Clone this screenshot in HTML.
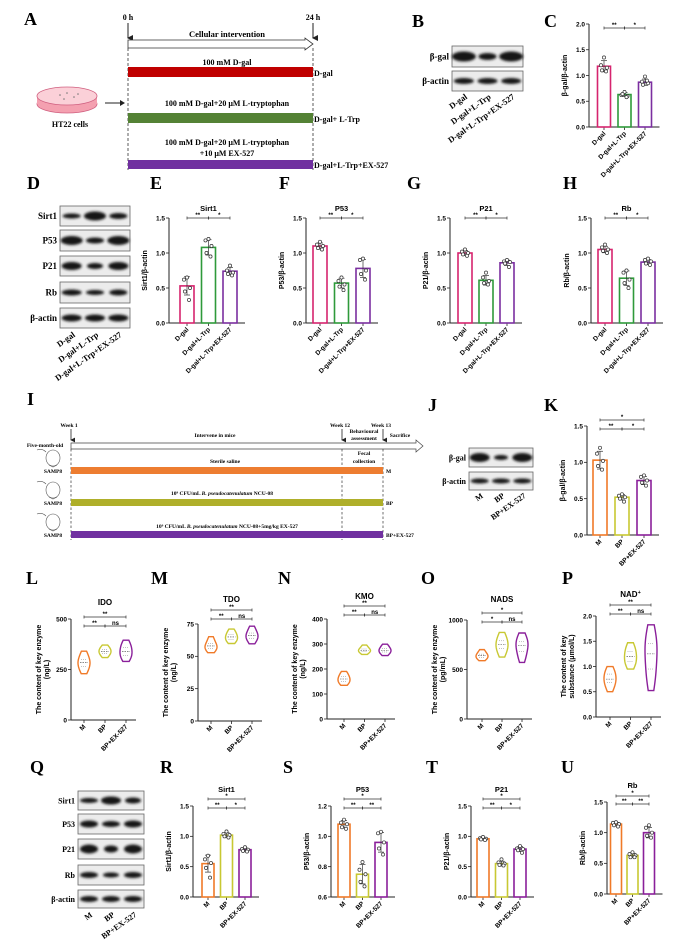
<!DOCTYPE html>
<html><head><meta charset="utf-8"><title>Figure</title>
<style>
html,body{margin:0;padding:0;background:#fff;}
svg{display:block;font-family:"Liberation Sans",Arial,sans-serif;}
.serif{font-family:"Liberation Serif","Times New Roman",serif;font-weight:bold;}
.letter{font-family:"Liberation Serif",serif;font-weight:bold;font-size:18px;}
.tick{font-size:6.5px;font-weight:bold;}
</style></head>
<body>
<svg id="fig" width="690" height="942" viewBox="0 0 690 942" xmlns="http://www.w3.org/2000/svg">
<defs>
<filter id="blur" x="-20%" y="-50%" width="140%" height="200%"><feGaussianBlur stdDeviation="1.3"/></filter>
<marker id="arr" markerWidth="6" markerHeight="6" refX="3" refY="5" orient="auto"><path d="M0,0 L3,6 L6,0" fill="#222"/></marker>
</defs>

<!-- Panel A schematic -->
<g>
<text class="letter" x="24" y="25">A</text>
<text class="serif" x="128" y="20" font-size="8" text-anchor="middle">0 h</text>
<text class="serif" x="313" y="20" font-size="8" text-anchor="middle">24 h</text>
<line x1="128" y1="23" x2="128" y2="38" stroke="#222" stroke-width="1" marker-end="url(#arr)"/>
<line x1="313" y1="23" x2="313" y2="38" stroke="#222" stroke-width="1" marker-end="url(#arr)"/>
<text class="serif" x="227" y="37" font-size="8.5" text-anchor="middle">Cellular intervention</text>
<path d="M128,40 H305 V38 L313,44 L305,50 V48 H128 Z" fill="#fff" stroke="#333" stroke-width="0.8"/>
<line x1="128" y1="48" x2="128" y2="170" stroke="#333" stroke-width="0.8" stroke-dasharray="3,2"/>
<line x1="313" y1="48" x2="313" y2="170" stroke="#333" stroke-width="0.8" stroke-dasharray="3,2"/>
<text class="serif" x="227" y="65" font-size="8" text-anchor="middle">100 mM D-gal</text>
<rect x="128" y="67" width="185" height="10" fill="#c00000"/>
<text class="serif" x="314" y="76" font-size="8">D-gal</text>
<text class="serif" x="227" y="106" font-size="8" text-anchor="middle">100 mM D-gal+20 μM L-tryptophan</text>
<rect x="128" y="113" width="185" height="10" fill="#548235"/>
<text class="serif" x="314" y="122" font-size="8">D-gal+ L-Trp</text>
<text class="serif" x="227" y="145" font-size="8" text-anchor="middle">100 mM D-gal+20 μM L-tryptophan</text>
<text class="serif" x="227" y="156" font-size="8" text-anchor="middle">+10 μM EX-527</text>
<rect x="128" y="160" width="185" height="9" fill="#7030a0"/>
<text class="serif" x="314" y="168" font-size="8">D-gal+L-Trp+EX-527</text>
<g>
<ellipse cx="67" cy="104" rx="30" ry="9" fill="#f4a0b0" stroke="#d06080" stroke-width="0.8"/>
<rect x="37" y="96" width="60" height="8" fill="#f4a0b0"/>
<ellipse cx="67" cy="96" rx="30" ry="9" fill="#fbd0d8" stroke="#d06080" stroke-width="0.8"/>
<circle cx="60" cy="95" r="0.8" fill="#777"/><circle cx="67" cy="93" r="0.8" fill="#777"/><circle cx="74" cy="97" r="0.8" fill="#777"/><circle cx="64" cy="99" r="0.8" fill="#777"/><circle cx="78" cy="94" r="0.8" fill="#777"/>
</g>
<text class="serif" x="70" y="127" font-size="8" text-anchor="middle">HT22 cells</text>
<line x1="105" y1="103" x2="120" y2="103" stroke="#222" stroke-width="1"/><path d="M120,100 L125,103 L120,106Z" fill="#222"/>
</g>

<!-- Panel I schematic -->
<g>
<text class="letter" x="27" y="405">I</text>
<text class="serif" x="69" y="427" font-size="5.5" text-anchor="middle">Week 1</text>
<text class="serif" x="340" y="427" font-size="5.5" text-anchor="middle">Week 12</text>
<text class="serif" x="381" y="427" font-size="5.5" text-anchor="middle">Week 13</text>
<line x1="71" y1="429" x2="71" y2="440" stroke="#222" stroke-width="0.8" marker-end="url(#arr)"/>
<line x1="342" y1="429" x2="342" y2="440" stroke="#222" stroke-width="0.8" marker-end="url(#arr)"/>
<line x1="383" y1="429" x2="383" y2="440" stroke="#222" stroke-width="0.8" marker-end="url(#arr)"/>
<text class="serif" x="215" y="437" font-size="5.5" text-anchor="middle">Intervene in mice</text>
<text class="serif" x="364" y="433" font-size="5.5" text-anchor="middle">Behavioural</text>
<text class="serif" x="364" y="440" font-size="5.5" text-anchor="middle">assessment</text>
<text class="serif" x="400" y="437" font-size="5.5" text-anchor="middle">Sacrifice</text>
<text class="serif" x="45" y="447" font-size="5.5" text-anchor="middle">Five-month-old</text>
<path d="M71,443 H416 V440 L423,446 L416,452 V449 H71 Z" fill="#fff" stroke="#444" stroke-width="0.7"/>
<line x1="71" y1="449" x2="71" y2="540" stroke="#333" stroke-width="0.7" stroke-dasharray="2.5,2"/>
<line x1="342" y1="449" x2="342" y2="540" stroke="#333" stroke-width="0.7" stroke-dasharray="2.5,2"/>
<line x1="383" y1="449" x2="383" y2="540" stroke="#333" stroke-width="0.7" stroke-dasharray="2.5,2"/>
<text class="serif" x="364" y="455" font-size="5.5" text-anchor="middle">Fecal</text>
<text class="serif" x="364" y="463" font-size="5.5" text-anchor="middle">collection</text>
<text class="serif" x="225" y="463" font-size="5.5" text-anchor="middle">Sterile saline</text>
<rect x="71" y="467" width="312" height="7" fill="#ed7d31"/>
<text class="serif" x="386" y="473" font-size="5.5">M</text>
<text class="serif" x="222" y="495" font-size="5.5" text-anchor="middle">10⁹ CFU/mL <tspan font-style="italic">B. pseudocatenulatum</tspan> NCU-08</text>
<rect x="71" y="499" width="312" height="7" fill="#afaf2a"/>
<text class="serif" x="386" y="505" font-size="5.5">BP</text>
<text class="serif" x="227" y="528" font-size="5.5" text-anchor="middle">10⁹ CFU/mL <tspan font-style="italic">B. pseudocatenulatum</tspan> NCU-08+5mg/kg EX-527</text>
<rect x="71" y="531" width="312" height="7" fill="#7030a0"/>
<text class="serif" x="386" y="537" font-size="5.5">BP+EX-527</text>
<g id="mice"></g>
</g>

<g id="charts"></g>
</svg>

<script>
// ---------- DATA ----------
const cellCats = ["D-gal", "D-gal+L-Trp", "D-gal+L-Trp+EX-527"];
const mouseCats = ["M", "BP", "BP+EX-527"];

const cValues = [1.18, 0.63, 0.87];
const cPoints = [[1.35,1.2,1.15,1.1,1.08],[0.68,0.62,0.6,0.64,0.58],[0.98,0.88,0.85,0.82,0.9]];
const cTicks = [0, 0.5, 1.0, 1.5, 2.0];

const eValues = [0.53, 1.08, 0.74];
const ePoints = [[0.65,0.62,0.5,0.45,0.33],[1.2,1.18,1.1,1.0,0.95],[0.82,0.75,0.72,0.7,0.68]];
const fValues = [1.1, 0.57, 0.78];
const fPoints = [[1.16,1.12,1.1,1.07,1.05],[0.65,0.6,0.55,0.52,0.47],[0.92,0.9,0.75,0.7,0.62]];
const gValues = [1.0, 0.61, 0.86];
const gPoints = [[1.05,1.02,1.0,0.98,0.96],[0.72,0.65,0.6,0.57,0.55],[0.9,0.88,0.87,0.85,0.8]];
const hValues = [1.05, 0.64, 0.87];
const hPoints = [[1.12,1.08,1.05,1.03,1.0],[0.75,0.72,0.62,0.57,0.5],[0.92,0.9,0.88,0.85,0.83]];
const ehTicks = [0, 0.5, 1.0, 1.5];

const kValues = [1.03, 0.52, 0.75];
const kPoints = [[1.2,1.12,1.02,0.95,0.9],[0.56,0.54,0.52,0.5,0.46],[0.82,0.8,0.75,0.72,0.68]];
const kTicks = [0, 0.5, 1.0, 1.5];

const lSamples = [[240,265,285,300,330],[315,330,340,350,365],[300,320,340,360,385]];
const lTicks = [0, 250, 500];
const mSamples = [[54,56,58,60,64],[61,63,65,67,70],[61,64,66,68,72]];
const mTicks = [0, 25, 50, 75];
const nSamples = [[140,150,160,170,185],[262,270,275,280,292],[258,268,275,282,295]];
const nTicks = [0, 100, 200, 300, 400];
const oSamples = [[600,620,640,655,690],[650,710,750,790,850],[600,680,740,780,840]];
const oTicks = [0, 500, 1000];
const pSamples = [[0.55,0.68,0.75,0.85,0.95],[1.0,1.1,1.2,1.3,1.42],[0.65,0.95,1.25,1.45,1.7]];
const pTicks = [0, 0.5, 1.0, 1.5, 2.0];

const rValues = [0.55, 1.02, 0.78];
const rPoints = [[0.68,0.62,0.56,0.48,0.32],[1.08,1.04,1.02,1.0,0.98],[0.82,0.79,0.78,0.76,0.75]];
const sValues = [1.08, 0.75, 0.96];
const sPoints = [[1.11,1.09,1.08,1.06,1.05],[0.83,0.78,0.75,0.7,0.67],[1.03,1.02,0.96,0.92,0.88]];
const sTicks = [0.6, 0.8, 1.0, 1.2];
const tValues = [0.96, 0.55, 0.79];
const tPoints = [[0.99,0.97,0.96,0.95,0.94],[0.62,0.57,0.55,0.53,0.52],[0.84,0.8,0.79,0.77,0.73]];
const uValues = [1.14, 0.63, 1.0];
const uPoints = [[1.17,1.16,1.14,1.12,1.1],[0.68,0.65,0.63,0.6,0.6],[1.12,1.08,1.0,0.95,0.92]];
const ruTicks = [0, 0.5, 1.0, 1.5];

// ---------- HELPERS ----------
const NS = "http://www.w3.org/2000/svg";
const root = document.getElementById('charts');
function mk(tag, attrs, parent, txt) {
  const e = document.createElementNS(NS, tag);
  for (const k in attrs) e.setAttribute(k, attrs[k]);
  if (txt !== undefined) e.textContent = txt;
  (parent || root).appendChild(e);
  return e;
}
const cellColors = ["#d6246e", "#2e9a3a", "#7b2fa0"];
const mouseColors = ["#f07a28", "#c8c832", "#8a1f9a"];

function fmt(v, ticks) {
  const dec = ticks.some(t => Math.abs(t - Math.round(t)) > 1e-9) ? 1 : 0;
  return v.toFixed(dec);
}

function axes(g, ax, yTop, yBot, ticks, xEnd, cats, x0, step, labelSerif, labelSize) {
  const dmin = ticks[0], dmax = ticks[ticks.length - 1];
  const ys = v => yBot - (v - dmin) / (dmax - dmin) * (yBot - yTop);
  const yax = mk('line', {x1: ax, y1: yTop, x2: ax, y2: yBot, stroke: '#222', 'stroke-width': 1}, g);
  
  
  const xax = mk('line', {x1: ax, y1: yBot, x2: xEnd, y2: yBot, stroke: '#222', 'stroke-width': 1}, g);
  
  
  ticks.forEach(t => {
    mk('line', {x1: ax - 3, y1: ys(t), x2: ax, y2: ys(t), stroke: '#222', 'stroke-width': 0.8}, g);
    const tl = mk('text', {x: ax - 4, y: ys(t) + 2.3, 'text-anchor': 'end', class: 'tick'}, g, fmt(t, ticks));
    
    
  });
  cats.forEach((c, i) => {
    const x = x0 + i * step;
    mk('line', {x1: x, y1: yBot, x2: x, y2: yBot + 3, stroke: '#222', 'stroke-width': 0.8}, g);
    const tl = mk('text', {x: x + 2, y: yBot + 7, 'text-anchor': 'end', transform: `rotate(-45 ${x + 2} ${yBot + 7})`, 'font-size': labelSize || 6.5, 'font-weight': 'bold'}, g, c);
    
    
  });
  return ys;
}

function sig(g, xa, xb, y, lab) {
  mk('line', {x1: xa, y1: y, x2: xb, y2: y, stroke: '#333', 'stroke-width': 0.7}, g);
  mk('line', {x1: xa, y1: y - 1.5, x2: xa, y2: y + 1.5, stroke: '#333', 'stroke-width': 0.7}, g);
  mk('line', {x1: xb, y1: y - 1.5, x2: xb, y2: y + 1.5, stroke: '#333', 'stroke-width': 0.7}, g);
  const t = mk('text', {x: (xa + xb) / 2, y: y - 0.8, 'text-anchor': 'middle', 'font-size': 6, 'font-weight': 'bold'}, g, lab);
  
  
}

function barChart(o, cats, values, points, ticks) {
  const g = mk('g', {});
  
  
  const xEnd = o.x0 + 2 * o.step + o.bw / 2 + 8;
  const ys = axes(g, o.ax, o.yTop, o.yBot, ticks, xEnd, cats, o.x0, o.step);
  values.forEach((v, i) => {
    const x = o.x0 + i * o.step;
    const r = mk('rect', {x: x - o.bw / 2, y: ys(v), width: o.bw, height: o.yBot - ys(v), fill: 'none', stroke: o.colors[i], 'stroke-width': 1.6}, g);
    
    
    const p = points[i];
    const mean = p.reduce((a, b) => a + b, 0) / p.length;
    const sd = Math.sqrt(p.reduce((a, b) => a + (b - mean) ** 2, 0) / (p.length - 1));
    mk('line', {x1: x, y1: ys(v + sd), x2: x, y2: ys(Math.max(ticks[0], v - sd)), stroke: '#333', 'stroke-width': 0.7}, g);
    mk('line', {x1: x - 3, y1: ys(v + sd), x2: x + 3, y2: ys(v + sd), stroke: '#333', 'stroke-width': 0.7}, g);
    mk('line', {x1: x - 3, y1: ys(Math.max(ticks[0], v - sd)), x2: x + 3, y2: ys(Math.max(ticks[0], v - sd)), stroke: '#333', 'stroke-width': 0.7}, g);
    const offs = [0, -3, 3, -2, 2];
    p.forEach((pv, j) => {
      const c = mk('circle', {cx: x + offs[j], cy: ys(pv), r: 1.6, fill: '#fff', stroke: '#333', 'stroke-width': 0.7}, g);
      
      
    });
  });
  if (o.title) {
    const t = mk('text', {x: o.x0 + o.step, y: o.titleY, 'text-anchor': 'middle', 'font-size': 7.5, 'font-weight': 'bold'}, g, o.title);
    
    
  }
  const cy = (o.yTop + o.yBot) / 2;
  const yt = mk('text', {x: o.ax - 22, y: cy, 'text-anchor': 'middle', transform: `rotate(-90 ${o.ax - 22} ${cy})`, 'font-size': 7, 'font-weight': 'bold'}, g, o.ytitle);
  
  
  o.sigs.forEach(s => sig(g, o.x0 + s[0] * o.step, o.x0 + s[1] * o.step, s[2], s[3]));
}

function violinChart(o, cats, samples, ticks) {
  const g = mk('g', {});
  
  
  const xEnd = o.x0 + 2 * o.step + 10;
  const ys = axes(g, o.ax, o.yTop, o.yBot, ticks, xEnd, cats, o.x0, o.step);
  samples.forEach((s, i) => {
    const x = o.x0 + i * o.step;
    const mn = Math.min(...s), mx = Math.max(...s);
    const bwid = (mx - mn) * 0.28 || 1;
    const lo = mn - (mx - mn) * 0.12, hi = mx + (mx - mn) * 0.12;
    const N = 30, dens = [];
    for (let k = 0; k <= N; k++) {
      const v = lo + (hi - lo) * k / N;
      let d = 0; s.forEach(q => d += Math.exp(-0.5 * ((v - q) / bwid) ** 2));
      dens.push([v, d]);
    }
    const dmax = Math.max(...dens.map(d => d[1]));
    let path = '';
    dens.forEach((d, k) => { path += (k ? 'L' : 'M') + (x + d[1] / dmax * 6).toFixed(2) + ',' + ys(d[0]).toFixed(2); });
    for (let k = N; k >= 0; k--) { const d = dens[k]; path += 'L' + (x - d[1] / dmax * 6).toFixed(2) + ',' + ys(d[0]).toFixed(2); }
    path += 'Z';
    const pth = mk('path', {d: path, fill: 'none', stroke: mouseColors[i], 'stroke-width': 1.4}, g);
    
    
    const srt = [...s].sort((a, b) => a - b);
    const med = srt[2];
    mk('line', {x1: x - 4, y1: ys(med), x2: x + 4, y2: ys(med), stroke: '#444', 'stroke-width': 0.6, 'stroke-dasharray': '1.5,1'}, g);
    mk('line', {x1: x - 3, y1: ys(srt[1]), x2: x + 3, y2: ys(srt[1]), stroke: '#888', 'stroke-width': 0.5, 'stroke-dasharray': '1,1'}, g);
    mk('line', {x1: x - 3, y1: ys(srt[3]), x2: x + 3, y2: ys(srt[3]), stroke: '#888', 'stroke-width': 0.5, 'stroke-dasharray': '1,1'}, g);
  });
  const t = mk('text', {x: o.x0 + o.step, y: o.titleY, 'text-anchor': 'middle', 'font-size': 8, 'font-weight': 'bold'}, g);
  t.textContent = o.title;
  if (o.sup) { const ts = mk('tspan', {'font-size': 5.5, dy: -3}, t, o.sup); }
  
  
  const cy = (o.yTop + o.yBot) / 2;
  const yt = mk('text', {x: o.ax - 30, y: cy, 'text-anchor': 'middle', transform: `rotate(-90 ${o.ax - 30} ${cy})`, 'font-size': 7, 'font-weight': 'bold'}, g, o.ytitle1);
  
  
  const yt2 = mk('text', {x: o.ax - 22, y: cy, 'text-anchor': 'middle', transform: `rotate(-90 ${o.ax - 22} ${cy})`, 'font-size': 7, 'font-weight': 'bold'}, g, o.ytitle2);
  
  
  o.sigs.forEach(s => sig(g, o.x0 + s[0] * o.step, o.x0 + s[1] * o.step, s[2], s[3]));
}

function blot(name, x, y, w, h, widths, thick, label, labelSize) {
  const g = mk('g', {});
  
  
  mk('rect', {x: x, y: y, width: w, height: h, fill: '#ececec', stroke: '#666', 'stroke-width': 0.8}, g);
  widths.forEach((bw, i) => {
    const cx = x + w * (i + 0.5) / 3;
    const e = mk('ellipse', {cx: cx, cy: y + h / 2, rx: bw, ry: thick[i], fill: '#151515', filter: 'url(#blur)'}, g);
    
    
  });
  const t = mk('text', {x: x - 3, y: y + h / 2 + 3, 'text-anchor': 'end', class: 'serif', 'font-size': labelSize || 9}, g, label);
  
  
}

function laneLabels(name, x, w, y, cats, size) {
  const g = mk('g', {});
  
  
  cats.forEach((c, i) => {
    const cx = x + w * (i + 0.5) / 3 + 4;
    const t = mk('text', {x: cx, y: y, 'text-anchor': 'end', class: 'serif', 'font-size': size, transform: `rotate(-35 ${cx} ${y})`}, g, c);
    
    
  });
}

function letter(ch, x, y) {
  const t = mk('text', {x: x, y: y, class: 'letter'}, root, ch);
  
  
}

// ---------- LETTERS ----------
[['B',412,27],['C',544,27],['D',27,189],['E',150,189],['F',279,189],['G',407,189],['H',563,189],
 ['J',428,411],['K',544,411],['L',26,584],['M',151,584],['N',278,584],['O',421,584],['P',562,584],
 ['Q',30,773],['R',160,773],['S',283,773],['T',426,773],['U',561,773]].forEach(l => letter(l[0], l[1], l[2]));

// ---------- BLOTS ----------
blot('blot-b-bgal', 452, 46, 71, 21, [12, 9, 12], [5, 3.5, 5], 'β-gal', 9);
blot('blot-b-actin', 452, 71, 71, 20, [10, 10, 10], [3, 3, 3], 'β-actin', 9);
laneLabels('blot-b-lanes', 452, 71, 98, cellCats, 8.5);

blot('blot-d-sirt1', 60, 206, 70, 20, [9, 11, 9], [2.5, 4.5, 3], 'Sirt1', 9);
blot('blot-d-p53', 60, 230, 70, 21, [11, 9, 11], [4.5, 3, 4.5], 'P53', 9);
blot('blot-d-p21', 60, 256, 70, 20, [10, 8, 10], [4, 3, 4], 'P21', 9);
blot('blot-d-rb', 60, 282, 70, 21, [10, 9, 9], [3, 2.5, 3], 'Rb', 9);
blot('blot-d-actin', 60, 308, 70, 20, [10, 10, 10], [3.5, 3.5, 3.5], 'β-actin', 9);
laneLabels('blot-d-lanes', 60, 70, 336, cellCats, 8.5);

blot('blot-j-bgal', 469, 448, 64, 19, [10, 7, 10], [4.5, 2.5, 4.5], 'β-gal', 8);
blot('blot-j-actin', 469, 472, 64, 18, [9, 9, 9], [2.5, 2.5, 2.5], 'β-actin', 8);
laneLabels('blot-j-lanes', 469, 64, 497, mouseCats, 8);

blot('blot-q-sirt1', 78, 791, 66, 19, [9, 10, 8], [2.5, 4, 3], 'Sirt1', 8);
blot('blot-q-p53', 78, 814, 66, 20, [9, 9, 9], [3.5, 3, 3.5], 'P53', 8);
blot('blot-q-p21', 78, 839, 66, 20, [9, 7, 9], [4.5, 3.5, 4.5], 'P21', 8);
blot('blot-q-rb', 78, 865, 66, 20, [9, 8, 9], [3, 2.5, 3], 'Rb', 8);
blot('blot-q-actin', 78, 890, 66, 18, [9, 9, 9], [3, 3, 3], 'β-actin', 8);
laneLabels('blot-q-lanes', 78, 66, 916, mouseCats, 8);

// ---------- BAR CHARTS ----------
barChart({name:'chart-c-bgal', ax:589, yTop:24, yBot:127, x0:604, step:20.5, bw:13, colors:cellColors, ytitle:'β-gal/β-actin', sigs:[[0,1,28,'**'],[1,2,28,'*']]}, cellCats, cValues, cPoints, cTicks);
barChart({name:'chart-e-sirt1', ax:169, yTop:218, yBot:323, x0:187, step:21.5, bw:14, colors:cellColors, title:'Sirt1', titleY:211, ytitle:'Sirt1/β-actin', sigs:[[0,1,218,'**'],[1,2,218,'*']]}, cellCats, eValues, ePoints, ehTicks);
barChart({name:'chart-f-p53', ax:306, yTop:218, yBot:323, x0:320, step:21.5, bw:14, colors:cellColors, title:'P53', titleY:211, ytitle:'P53/β-actin', sigs:[[0,1,218,'**'],[1,2,218,'*']]}, cellCats, fValues, fPoints, ehTicks);
barChart({name:'chart-g-p21', ax:450, yTop:218, yBot:323, x0:465, step:21, bw:14, colors:cellColors, title:'P21', titleY:211, ytitle:'P21/β-actin', sigs:[[0,1,218,'**'],[1,2,218,'*']]}, cellCats, gValues, gPoints, ehTicks);
barChart({name:'chart-h-rb', ax:591, yTop:218, yBot:323, x0:605, step:21.5, bw:14, colors:cellColors, title:'Rb', titleY:211, ytitle:'Rb/β-actin', sigs:[[0,1,218,'**'],[1,2,218,'*']]}, cellCats, hValues, hPoints, ehTicks);

barChart({name:'chart-k-bgal', ax:587, yTop:426, yBot:535, x0:600, step:22, bw:14, colors:mouseColors, ytitle:'β-gal/β-actin', sigs:[[0,2,420,'*'],[0,1,429,'**'],[1,2,429,'*']]}, mouseCats, kValues, kPoints, kTicks);

barChart({name:'chart-r-sirt1', ax:193, yTop:806, yBot:897, x0:208, step:18.5, bw:12, colors:mouseColors, title:'Sirt1', titleY:792, ytitle:'Sirt1/β-actin', sigs:[[0,2,799,'*'],[0,1,808,'**'],[1,2,808,'*']]}, mouseCats, rValues, rPoints, ruTicks);
barChart({name:'chart-s-p53', ax:331, yTop:806, yBot:897, x0:344, step:18.5, bw:12, colors:mouseColors, title:'P53', titleY:792, ytitle:'P53/β-actin', sigs:[[0,2,799,'*'],[0,1,808,'**'],[1,2,808,'**']]}, mouseCats, sValues, sPoints, sTicks);
barChart({name:'chart-t-p21', ax:471, yTop:806, yBot:897, x0:483, step:18.5, bw:12, colors:mouseColors, title:'P21', titleY:792, ytitle:'P21/β-actin', sigs:[[0,2,799,'*'],[0,1,808,'**'],[1,2,808,'*']]}, mouseCats, tValues, tPoints, ruTicks);
barChart({name:'chart-u-rb', ax:607, yTop:802, yBot:894, x0:616, step:16.5, bw:11, colors:mouseColors, title:'Rb', titleY:788, ytitle:'Rb/β-actin', sigs:[[0,2,796,'*'],[0,1,804,'**'],[1,2,804,'**']]}, mouseCats, uValues, uPoints, ruTicks);

// ---------- VIOLIN CHARTS ----------
violinChart({name:'chart-l-ido', ax:71, yTop:619, yBot:720, x0:84, step:21, title:'IDO', titleY:605, ytitle1:'The content of key enzyme', ytitle2:'(ng/L)', sigs:[[0,2,617,'**'],[0,1,626,'**'],[1,2,626,'ns']]}, mouseCats, lSamples, lTicks);
violinChart({name:'chart-m-tdo', ax:198, yTop:624, yBot:721, x0:211, step:20.5, title:'TDO', titleY:602, ytitle1:'The content of key enzyme', ytitle2:'(ng/L)', sigs:[[0,2,610,'**'],[0,1,619,'**'],[1,2,619,'ns']]}, mouseCats, mSamples, mTicks);
violinChart({name:'chart-n-kmo', ax:327, yTop:619, yBot:719, x0:344, step:20.5, title:'KMO', titleY:599, ytitle1:'The content of key enzyme', ytitle2:'(ng/L)', sigs:[[0,2,606,'**'],[0,1,615,'**'],[1,2,615,'ns']]}, mouseCats, nSamples, nTicks);
violinChart({name:'chart-o-nads', ax:467, yTop:620, yBot:719, x0:482, step:20, title:'NADS', titleY:602, ytitle1:'The content of key enzyme', ytitle2:'(pg/mL)', sigs:[[0,2,613,'*'],[0,1,622,'*'],[1,2,622,'ns']]}, mouseCats, oSamples, oTicks);
violinChart({name:'chart-p-nad', ax:596, yTop:616, yBot:717, x0:610, step:20.5, title:'NAD', sup:'+', titleY:597, ytitle1:'The content of key', ytitle2:'substance (μmol/L)', sigs:[[0,2,605,'**'],[0,1,614,'**'],[1,2,614,'ns']]}, mouseCats, pSamples, pTicks);

// ---------- MICE ----------
const miceG = document.getElementById('mice');
[466, 498, 530].forEach(y => {
  const e1 = mk('ellipse', {cx: 53, cy: y - 8, rx: 7, ry: 8, fill: '#fff', stroke: '#555', 'stroke-width': 0.6}, miceG);
  
  
  mk('path', {d: `M46,${y - 14} q-4,-4 -9,-2`, fill: 'none', stroke: '#555', 'stroke-width': 0.6}, miceG);
  mk('path', {d: `M49,${y - 1} l4,2 l4,-2`, fill: 'none', stroke: '#555', 'stroke-width': 0.6}, miceG);
  const t = mk('text', {x: 53, y: y + 7, 'text-anchor': 'middle', class: 'serif', 'font-size': 5.5}, miceG, 'SAMP8');
  
  
});
</script>
</body></html>
